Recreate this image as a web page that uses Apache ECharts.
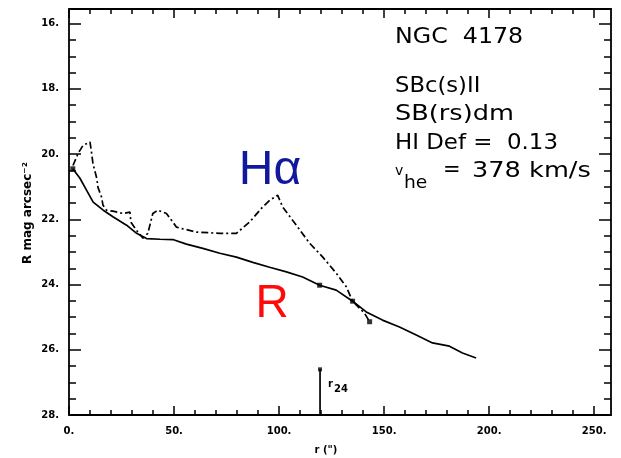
<!DOCTYPE html>
<html><head><meta charset="utf-8">
<script src="https://cdn.jsdelivr.net/npm/echarts@6/dist/echarts.min.js"></script>
<style>html,body{margin:0;padding:0;background:#fff}#c{width:621px;height:458px}</style>
</head><body><div id="c"></div>
<script>
// R-band surface brightness profile (radius in arcsec, mag/arcsec^2)
const rRadius = [1.8,5.2,8.4,11.5,16.3,21.1,27.4,32.2,36.9,43.3,49.4,55.9,63.7,71.8,79.7,87.5,95.5,103.5,111.2,119.3,127.2,135.0,141.5,149.2,157.3,165.3,173.0,181.1,187.3,193.8];
const rMag    = [20.45,20.74,21.11,21.47,21.72,21.93,22.18,22.43,22.59,22.61,22.62,22.76,22.89,23.04,23.16,23.32,23.47,23.61,23.77,24.02,24.17,24.51,24.84,25.09,25.30,25.55,25.79,25.89,26.10,26.25];
// H-alpha profile
const haRadius = [1.9,4.3,6.7,10.0,10.8,11.4,13.2,13.8,15.5,16.2,17.9,20.9,25.7,29.0,29.5,32.2,35.2,37.5,38.5,39.9,42.3,46.4,51.2,52.8,60.7,71.8,79.7,86.0,92.2,95.5,99.3,101.7,108.2,114.5,120.7,127.2,132.0,135.0,140.7,143.1];
const haMag    = [20.35,19.98,19.73,19.63,19.98,20.29,20.74,21.02,21.32,21.57,21.72,21.75,21.82,21.78,22.09,22.34,22.58,22.43,22.18,21.82,21.72,21.82,22.24,22.27,22.39,22.43,22.43,22.08,21.62,21.42,21.26,21.62,22.18,22.73,23.15,23.65,24.07,24.51,24.88,25.14];
// marked points
const markRadius = [1.8,119.3,135.0,143.1];
const markMag    = [20.45,24.02,24.51,25.14];
// r24 isophotal radius
const r24Radius = 119.5;
const r24Ends   = [28, 26.6];
// axes
const xRange = [0, 258];
const yRange = [15.55, 28];
const xMajor = [0,50,100,150,200,250];
const xMinor = [10,20,30,40,60,70,80,90,110,120,130,140,160,170,180,190,210,220,230,240];
const yMajor = [16,18,20,22,24,26,28];
const yMinor = [16.5,17,17.5,18.5,19,19.5,20.5,21,21.5,22.5,23,23.5,24.5,25,25.5,26.5,27,27.5];
const infoLines = ['NGC  4178','SBc(s)II','SB(rs)dm','HI Def =  0.13'];
const velSymbol = 'v';
const velSub = 'he';
const velEq = '=';
const velValue = '378 km/s';

const zip = (a,b) => a.map((v,i)=>[v,b[i]]);
const chart = echarts.init(document.getElementById('c'), null, {renderer:'canvas'});
const black = '#000';
const lblFont = {color:black, fontFamily:'DejaVu Sans', fontWeight:'bold', fontSize:10};

function xAx(pos, ticks, len, showLine, labels){
  return {type:'value', position:pos, min:xRange[0], max:xRange[1],
    axisLine:{show:showLine, onZero:false, lineStyle:{color:black,width:1.8}},
    axisTick:{show:true, inside:true, length:len, customValues:ticks, lineStyle:{color:black,width:1.5}},
    axisLabel: labels ? Object.assign({customValues:ticks, margin:11, formatter:v=>v+'.'}, lblFont) : {show:false},
    splitLine:{show:false}};
}
function yAx(pos, ticks, len, showLine, labels){
  return {type:'value', position:pos, min:yRange[0], max:yRange[1], inverse:true,
    axisLine:{show:showLine, onZero:false, lineStyle:{color:black,width:1.8}},
    axisTick:{show:true, inside:true, length:len, customValues:ticks, lineStyle:{color:black,width:1.5}},
    axisLabel: labels ? Object.assign({customValues:ticks, margin:10, formatter:v=>v+'.'}, lblFont) : {show:false},
    splitLine:{show:false}};
}

const txt = (x,y,t,size,sx) => ({type:'text', x:x, y:y, scaleX:sx||1, style:{text:t, fill:black, font:size+'px "DejaVu Sans"', textVerticalAlign:'middle'}});

chart.setOption({
  animation:false,
  backgroundColor:'#fff',
  grid:{left:69, right:10, top:9, bottom:43},
  xAxis:[xAx('bottom',xMajor,9,true,true), xAx('bottom',xMinor,5,false,false), xAx('top',xMajor,9,true,false), xAx('top',xMinor,5,false,false)],
  yAxis:[yAx('left',yMajor,12,true,true), yAx('left',yMinor,7,false,false), yAx('right',yMajor,12,true,false), yAx('right',yMinor,7,false,false)],
  series:[
    {type:'line', name:'R', data:zip(rRadius,rMag), symbol:'none', lineStyle:{color:black,width:1.7}},
    {type:'line', name:'Halpha', data:zip(haRadius,haMag), symbol:'none', lineStyle:{color:black,width:1.7,type:[7,3,2,3]}},
    {type:'scatter', data:zip(markRadius,markMag), symbol:'rect', symbolSize:5, itemStyle:{color:black}},
    {type:'line', data:r24Ends.map(m=>[r24Radius,m]), symbol:'none', lineStyle:{color:black,width:1.7}},
    {type:'scatter', data:[[r24Radius,r24Ends[1]]], symbol:'rect', symbolSize:4, itemStyle:{color:black}}
  ],
  graphic:[
    txt(395,38,infoLines[0],21,1.13),
    txt(395,87,infoLines[1],21,1.08),
    txt(395,115,infoLines[2],21,1.22),
    txt(395,144,infoLines[3],21,1.09),
    txt(395,171,velSymbol,14,1),
    txt(404,184,velSub,17,1.1),
    txt(443,171,velEq,21,1),
    txt(472,172,velValue,21,1.22),
    {type:'text', x:270, y:171, style:{text:'H\u03b1', fill:'#10189c', font:'48px "Liberation Sans"', textAlign:'center', textVerticalAlign:'middle'}},
    {type:'text', x:272, y:304, style:{text:'R', fill:'#ff0a0a', font:'46px "Liberation Sans"', textAlign:'center', textVerticalAlign:'middle'}},
    {type:'text', x:328, y:384, style:{text:'r', fill:black, font:'bold 10px "DejaVu Sans"', textVerticalAlign:'middle'}},
    {type:'text', x:334, y:389, style:{text:'24', fill:black, font:'bold 10px "DejaVu Sans"', textVerticalAlign:'middle'}},
    {type:'text', x:326, y:450, style:{text:'r (")', fill:black, font:'bold 10px "DejaVu Sans"', textAlign:'center', textVerticalAlign:'middle'}},
    {type:'text', x:28, y:213, rotation:Math.PI/2, style:{text:'R mag arcsec\u207b\u00b2', fill:black, font:'bold 12px "DejaVu Sans"', textAlign:'center', textVerticalAlign:'middle'}}
  ]
});
</script></body></html>
